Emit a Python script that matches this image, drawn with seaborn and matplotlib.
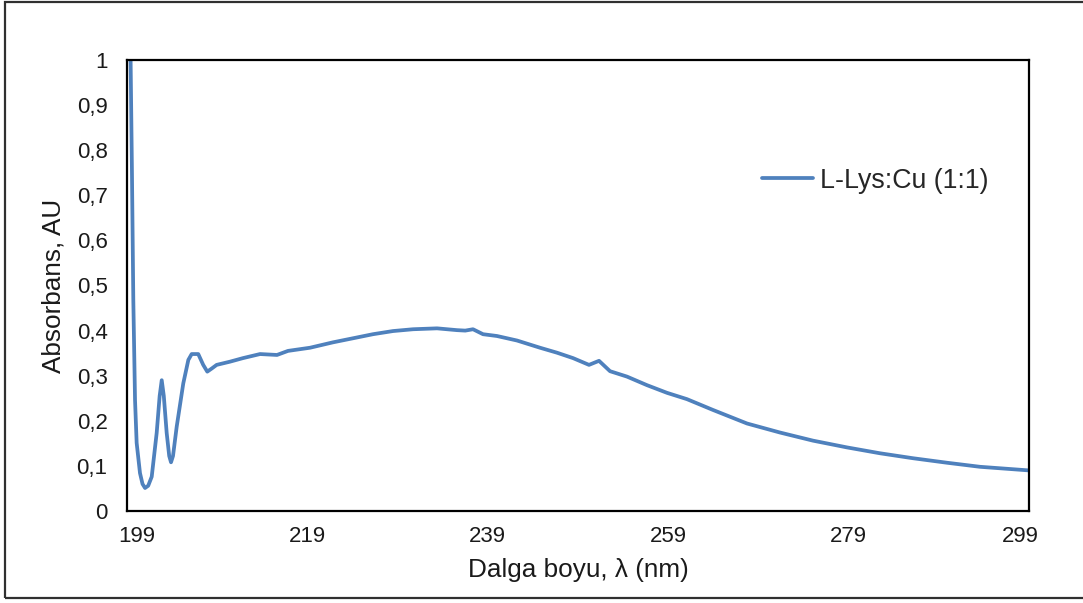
import matplotlib
matplotlib.use("Agg")
import matplotlib.pyplot as plt
import matplotlib.transforms as mtransforms
from matplotlib.patches import Rectangle
import seaborn as sns
import pandas as pd

# UV-Vis absorbance spectrum of the L-Lys:Cu (1:1) complex
wavelength = [199.40, 199.55, 199.70, 199.89, 200.07, 200.44, 200.72, 201.00,
              201.35, 201.74, 202.29, 202.62, 202.85, 203.08, 203.40, 203.68,
              203.88, 204.10, 204.51, 205.24, 205.80, 206.17, 206.90, 207.45,
              207.90, 208.40, 208.94, 210.40, 211.86, 213.75, 215.63,
              216.85, 219.29, 221.84, 224.06, 226.27, 228.49, 230.71, 233.37,
              235.59, 236.50, 237.36, 238.47, 240.02, 242.24, 244.79, 246.67,
              248.45, 250.22, 251.33, 252.55, 254.43, 256.65, 258.87, 261.08,
              263.97, 267.74, 271.39, 275.05, 278.82, 282.48, 286.14, 289.91,
              293.57, 299.00]
absorbance = [1.000, 0.750, 0.468, 0.246, 0.151, 0.084, 0.060, 0.051,
              0.056, 0.076, 0.173, 0.255, 0.290, 0.255, 0.173, 0.122,
              0.108, 0.122, 0.187, 0.283, 0.335, 0.348, 0.348, 0.324,
              0.309, 0.316, 0.324, 0.331, 0.339, 0.348, 0.346,
              0.355, 0.362, 0.374, 0.383, 0.392, 0.399, 0.403, 0.405,
              0.401, 0.400, 0.403, 0.392, 0.388, 0.378, 0.362, 0.351,
              0.339, 0.324, 0.333, 0.310, 0.298, 0.279, 0.262, 0.248,
              0.224, 0.194, 0.174, 0.156, 0.141, 0.128, 0.117, 0.107,
              0.098, 0.090]

series_name = "L-Lys:Cu (1:1)"
x_ticks = [199, 219, 239, 259, 279, 299]
y_ticks = [0, 0.1, 0.2, 0.3, 0.4, 0.5, 0.6, 0.7, 0.8, 0.9, 1.0]
y_tick_labels = ["0", "0,1", "0,2", "0,3", "0,4", "0,5", "0,6", "0,7", "0,8", "0,9", "1"]

df = pd.DataFrame({"wavelength": wavelength, "absorbance": absorbance,
                   "series": series_name})

sns.set_theme(style="white")
plt.rcParams["font.family"] = ["Liberation Sans", "DejaVu Sans"]

fig = plt.figure(figsize=(10.83, 6.03), dpi=100)
ax = fig.add_axes([127 / 1083, 1 - 511 / 603, (1029 - 127) / 1083, (511 - 60) / 603])

sns.lineplot(data=df, x="wavelength", y="absorbance", hue="series",
             palette=["#4F81BD"], linewidth=2.7, ax=ax, sort=False,
             estimator=None)
for line in ax.get_lines():
    line.set_solid_joinstyle("round")
    line.set_solid_capstyle("round")

ax.set_xlim(199, 299)
ax.set_ylim(0, 1)
ax.set_xticks(x_ticks)
ax.set_xticklabels([str(t) for t in x_ticks])
ax.set_yticks(y_ticks)
ax.set_yticklabels(y_tick_labels)
ax.tick_params(axis="both", length=0, labelsize=16, colors="#1a1a1a")
ax.tick_params(axis="y", pad=14)
ax.tick_params(axis="x", pad=11)

# keep the end labels inside the plot width
xl = ax.get_xticklabels()
xl[0].set_transform(xl[0].get_transform() +
                    mtransforms.ScaledTranslation(10 / 100, 0, fig.dpi_scale_trans))
xl[-1].set_transform(xl[-1].get_transform() +
                     mtransforms.ScaledTranslation(-9 / 100, 0, fig.dpi_scale_trans))

ax.set_xlabel("Dalga boyu, λ (nm)", fontsize=18.8, color="#1a1a1a", labelpad=8)
ax.set_ylabel("Absorbans, AU", fontsize=18.8, color="#1a1a1a", labelpad=8)

for s in ax.spines.values():
    s.set_visible(True)
    s.set_color("black")
    s.set_linewidth(1.6)

leg = ax.legend(loc="center left", bbox_to_anchor=(0.704, 0.732), frameon=False,
                fontsize=19.3, handlelength=1.9, handletextpad=0.26,
                borderpad=0, borderaxespad=0, title=None)
for h in leg.get_lines():
    h.set_linewidth(2.7)

# outer chart border
fig.patches.append(Rectangle((5 / 1083, 5 / 603), 1.2, 1 - 6.5 / 603,
                             transform=fig.transFigure, fill=False,
                             edgecolor="#303030", linewidth=1.6))

fig.savefig("out.png", dpi=100)
